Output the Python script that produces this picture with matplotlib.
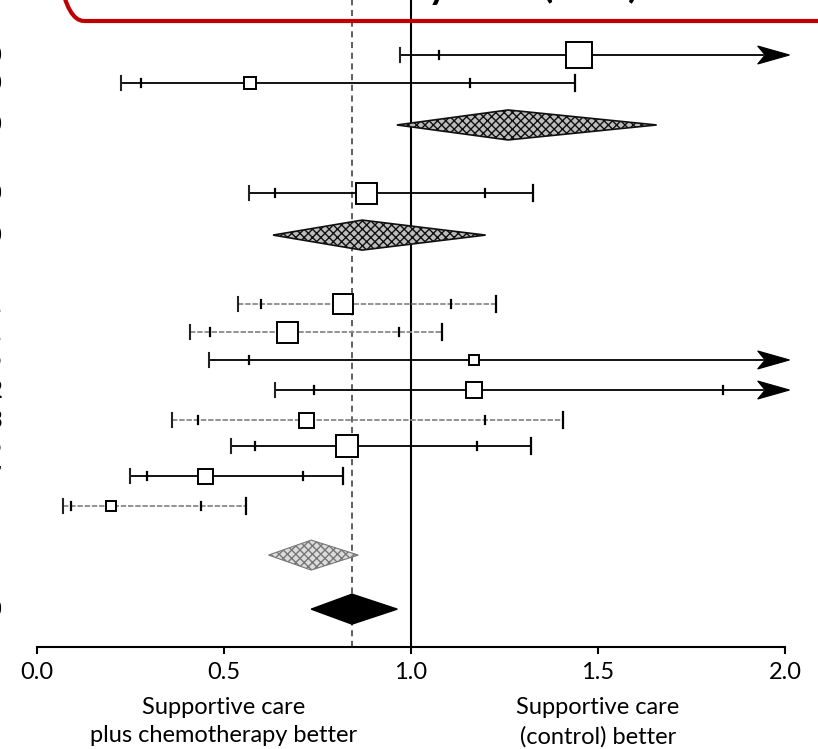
import matplotlib.pyplot as plt
from matplotlib.patches import Polygon, FancyBboxPatch

plt.rcParams['font.family'] = ['Lato', 'DejaVu Sans']

# individual trials (hazard ratio, inner and outer interval, square size)
trial_hr = [1.45, 0.57, 0.88, 0.82, 0.67, 1.17, 1.17, 0.72, 0.83, 0.45, 0.20]
inner_lo = [1.075, 0.279, 0.637, 0.60, 0.463, 0.568, 0.742, 0.432, 0.583, 0.295, 0.092]
inner_hi = [2.30, 1.158, 1.198, 1.107, 0.968, 2.40, 1.833, 1.198, 1.176, 0.712, 0.44]
outer_lo = [0.972, 0.227, 0.568, 0.538, 0.41, 0.46, 0.637, 0.361, 0.519, 0.25, 0.071]
outer_hi = [2.60, 1.438, 1.326, 1.227, 1.083, 2.70, 2.50, 1.408, 1.32, 0.818, 0.561]
trial_size = [26, 12, 21, 20, 21, 10, 16, 15, 22, 15, 10]
trial_grey = [False, False, False, True, True, False, False, True, False, False, True]

# pooled estimates (diamonds)
pool_lo = [0.963, 0.632, 0.62, 0.734]
pool_mid = [1.26, 0.87, 0.734, 0.843]
pool_hi = [1.657, 1.20, 0.86, 0.964]
pool_style = ['dark', 'dark', 'light', 'solid']

# row layout (top to bottom)
trial_rows = [0, 0.97, 4.78, 8.62, 9.59, 10.55, 11.59, 12.63, 13.53, 14.57, 15.61]
pool_rows = [2.42, 6.23, 17.3, 19.17]

# left-hand label column, cut off by the crop of the original slide
edge_labels = ['0', '0', '0', '0', '0', '1', '1', '5', '2', '3', '5', '7', '0']
edge_rows = [0, 0.97, 2.42, 4.78, 6.23, 8.62, 9.59, 10.55, 11.59, 12.63, 13.53, 14.57, 19.17]

fig = plt.figure(figsize=(8.18, 7.49), dpi=100)
ax = fig.add_axes([36.5 / 818, 102 / 749, 748.5 / 818, 647 / 749])
ax.set_xlim(0, 2)
ax.set_ylim(20.48, -1.903)

px = 1 / 28.9  # one pixel in row units

ax.axvline(1.0, color='black', lw=1.5, zorder=1)
ax.axvline(pool_mid[-1], color='#333333', lw=1.1, ls=(0, (4, 3)), zorder=1)

for i in range(len(trial_hr)):
    y = trial_rows[i]
    col = '#8a8a8a' if trial_grey[i] else 'black'
    ls = (0, (3, 1)) if trial_grey[i] else '-'
    hi = min(outer_hi[i], 2.0)
    ax.plot([outer_lo[i], hi - (0.06 if outer_hi[i] > 2 else 0)], [y, y], color=col, lw=1.3, ls=ls, zorder=2)
    # outer caps
    ax.plot([outer_lo[i]] * 2, [y - 7 * px, y + 7 * px], color='#222222', lw=1.5, zorder=3)
    if outer_hi[i] <= 2:
        ax.plot([outer_hi[i]] * 2, [y - 8 * px, y + 8 * px], color='black', lw=1.6, zorder=3)
    else:
        tip = 2.012
        ax.add_patch(Polygon([(tip, y), (tip - 0.085, y - 9 * px), (tip - 0.065, y),
                              (tip - 0.085, y + 9 * px)], closed=True, clip_on=False,
                             facecolor='black', edgecolor='black', lw=0.8, zorder=3))
    # inner ticks
    for v in (inner_lo[i], inner_hi[i]):
        if v <= 2:
            ax.plot([v, v], [y - 4 * px, y + 4 * px], color='black', lw=1.6, zorder=3)
    ax.plot(trial_hr[i], y, marker='s', ms=trial_size[i] * 0.72, mfc='white',
            mec='black', mew=1.4, zorder=4)

for i in range(len(pool_mid)):
    y = pool_rows[i]
    h = 15 * px
    pts = [(pool_lo[i], y), (pool_mid[i], y - h), (pool_hi[i], y), (pool_mid[i], y + h)]
    if pool_style[i] == 'solid':
        p = Polygon(pts, closed=True, facecolor='black', edgecolor='black', lw=1, zorder=3)
    elif pool_style[i] == 'dark':
        p = Polygon(pts, closed=True, facecolor='#bdbdbd', edgecolor='#111111',
                    hatch='xxxx', lw=1.2, zorder=3)
    else:
        p = Polygon(pts, closed=True, facecolor='#dcdcdc', edgecolor='#777777',
                    hatch='xxxx', lw=0.8, zorder=3)
    ax.add_patch(p)

for s in ['top', 'right', 'left']:
    ax.spines[s].set_visible(False)
ax.spines['bottom'].set_linewidth(1.5)
ax.set_yticks([])
ax.set_xticks([0, 0.5, 1.0, 1.5, 2.0])
ax.set_xticklabels(['0.0', '0.5', '1.0', '1.5', '2.0'], fontsize=17)
ax.tick_params(axis='x', direction='out', length=5, width=1.5, pad=6)
ax.patch.set_alpha(0)

ax.text(0.5, 22.2, 'Supportive care\nplus chemotherapy better', ha='center', va='top',
        fontsize=17, linespacing=1.45, clip_on=False)
ax.text(1.5, 22.2, 'Supportive care\n(control) better', ha='center', va='top',
        fontsize=17, linespacing=1.45, clip_on=False)

# cut-off label column at the left edge
for lab, r in zip(edge_labels, edge_rows):
    ax.text(-0.112, r, lab, ha='center', va='center', fontsize=17, fontweight='bold',
            clip_on=False)

# title box, mostly cut off at the top edge
box = FancyBboxPatch((0.52, 7.28), 10, 2, boxstyle='round,pad=0,rounding_size=0.32',
                     transform=fig.dpi_scale_trans, facecolor='none',
                     edgecolor='#c00000', lw=3, zorder=0)
fig.patches.append(box)
fig.text(1.26, 7.53, 'Survival at 1 year (HR)', transform=fig.dpi_scale_trans,
         ha='left', va='baseline', fontsize=38, color='black')

fig.savefig('out.png', dpi=100)
